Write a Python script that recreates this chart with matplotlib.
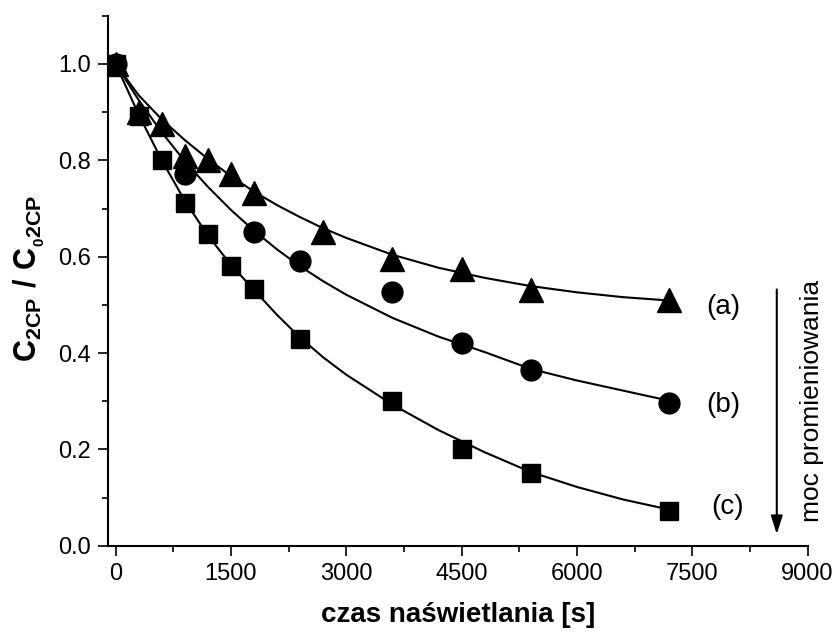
import matplotlib
matplotlib.use("Agg")
import matplotlib.pyplot as plt
from matplotlib.ticker import MultipleLocator

plt.rcParams['font.family'] = ['Liberation Sans', 'DejaVu Sans']
plt.rcParams['mathtext.fontset'] = 'custom'
plt.rcParams['mathtext.rm'] = 'Liberation Sans'
plt.rcParams['mathtext.bf'] = 'Liberation Sans:bold'

# ---- data: measured points ----
x_a = [0, 300, 600, 900, 1200, 1500, 1800, 2700, 3600, 4500, 5400, 7200]
y_a = [1.00, 0.90, 0.875, 0.81, 0.80, 0.772, 0.733, 0.651, 0.595, 0.575, 0.53, 0.511]

x_b = [0, 900, 1800, 2400, 3600, 4500, 5400, 7200]
y_b = [1.00, 0.772, 0.651, 0.592, 0.526, 0.42, 0.365, 0.297]

x_c = [0, 300, 600, 900, 1200, 1500, 1800, 2400, 3600, 4500, 5400, 7200]
y_c = [1.00, 0.893, 0.80, 0.712, 0.647, 0.581, 0.533, 0.43, 0.30, 0.20, 0.151, 0.073]

# ---- data: fitted curves ----
xf = [0, 300, 600, 900, 1200, 1500, 1800, 2100, 2400, 2700, 3000,
      3600, 4200, 4800, 5400, 6000, 6600, 7200]
yf_a = [1.00, 0.935, 0.885, 0.842, 0.803, 0.767, 0.735, 0.707, 0.682, 0.659, 0.639,
        0.604, 0.577, 0.556, 0.539, 0.526, 0.516, 0.509]
yf_b = [1.00, 0.925, 0.858, 0.798, 0.745, 0.697, 0.654, 0.615, 0.580, 0.549, 0.521,
        0.473, 0.434, 0.402, 0.367, 0.343, 0.322, 0.301]
yf_c = [1.00, 0.895, 0.800, 0.716, 0.644, 0.583, 0.531, 0.479, 0.432, 0.391, 0.355,
        0.293, 0.240, 0.194, 0.153, 0.122, 0.096, 0.075]

series_labels = ['(a)', '(b)', '(c)']
xtick_vals = [0, 1500, 3000, 4500, 6000, 7500, 9000]
ytick_vals = [0.0, 0.2, 0.4, 0.6, 0.8, 1.0]

fig = plt.figure(figsize=(8.35, 6.33), dpi=100)
ax = fig.add_axes([0.1293, 0.1379, 0.9671 - 0.1293, 0.975 - 0.1379])

lw = 1.5
ax.plot(xf, yf_a, color='black', lw=lw, zorder=2)
ax.plot(xf, yf_b, color='black', lw=lw, zorder=2)
ax.plot(xf, yf_c, color='black', lw=lw, zorder=2)

ax.plot(x_a, y_a, ls='none', marker='^', ms=17, color='black', zorder=3)
ax.plot(x_b, y_b, ls='none', marker='o', ms=15, color='black', zorder=3)
ax.plot(x_c, y_c, ls='none', marker='s', ms=13.5, color='black', zorder=3)

ax.text(7900, 0.495, series_labels[0], fontsize=20, ha='center', va='center')
ax.text(7900, 0.293, series_labels[1], fontsize=20, ha='center', va='center')
ax.text(7960, 0.081, series_labels[2], fontsize=20, ha='center', va='center')

ax.annotate('', xy=(8600, 0.024), xytext=(8600, 0.532),
            arrowprops=dict(arrowstyle='-|>,head_length=1.1,head_width=0.35',
                            color='black', lw=1.5, shrinkA=0, shrinkB=0))
ax.text(9060, 0.30, 'moc promieniowania', rotation=90, fontsize=19,
        ha='center', va='center', clip_on=False)

ax.set_xlim(-100, 9000)
ax.set_ylim(0, 1.1)
ax.set_xticks(xtick_vals)
ax.set_yticks(ytick_vals)
ax.set_yticklabels([f'{v:.1f}' for v in ytick_vals])
ax.xaxis.set_minor_locator(MultipleLocator(750))
ax.yaxis.set_minor_locator(MultipleLocator(0.1))

for s in ['top', 'right']:
    ax.spines[s].set_visible(False)
for s in ['left', 'bottom']:
    ax.spines[s].set_linewidth(1.5)

ax.tick_params(which='major', direction='out', length=7.5, width=1.2,
               labelsize=17, pad=5)
ax.tick_params(which='minor', direction='out', length=4, width=1.2)

ax.set_xlabel('czas naświetlania [s]', fontsize=20, fontweight='bold', labelpad=12)
ax.set_ylabel(r'$\mathbf{C_{2CP}\ /\ C_{{}_{0}2CP}}$', fontsize=22,
              va='center', ha='center')
ax.yaxis.set_label_coords(-0.113, 0.505)

fig.savefig('out.png', dpi=100)
